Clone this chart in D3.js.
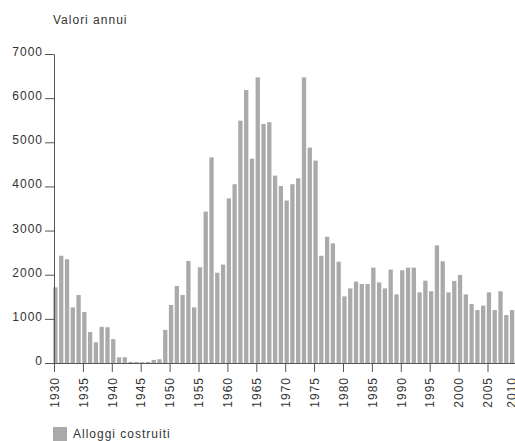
<!DOCTYPE html>
<html>
<head>
<meta charset="utf-8">
<script src="https://cdnjs.cloudflare.com/ajax/libs/d3/7.8.5/d3.min.js"></script>
<style>
  body { margin: 0; background: #fff; }
  svg { display: block; }
  text { font-family: "Liberation Sans", Arial, sans-serif; fill: #333; letter-spacing: 1px; }
</style>
</head>
<body>
<div id="chart"></div>
<script>
// dati: alloggi costruiti per anno
var years = [1930, 1931, 1932, 1933, 1934, 1935, 1936, 1937, 1938, 1939,
	1940, 1941, 1942, 1943, 1944, 1945, 1946, 1947, 1948, 1949,
	1950, 1951, 1952, 1953, 1954, 1955, 1956, 1957, 1958, 1959,
	1960, 1961, 1962, 1963, 1964, 1965, 1966, 1967, 1968, 1969,
	1970, 1971, 1972, 1973, 1974, 1975, 1976, 1977, 1978, 1979,
	1980, 1981, 1982, 1983, 1984, 1985, 1986, 1987, 1988, 1989,
	1990, 1991, 1992, 1993, 1994, 1995, 1996, 1997, 1998, 1999,
	2000, 2001, 2002, 2003, 2004, 2005, 2006, 2007, 2008, 2009, 2010];

var alloggi = [1715, 2430, 2350, 1260, 1540, 1155, 700, 470, 820, 810,
	540, 130, 130, 25, 25, 20, 25, 70, 85, 750,
	1315, 1745, 1540, 2310, 1260, 2170, 3430, 4660, 2045, 2230,
	3730, 4050, 5490, 6185, 4630, 6470, 5415, 5455, 4245, 4010,
	3680, 4050, 4185, 6470, 4880, 4585, 2430, 2860, 2710, 2295,
	1510, 1690, 1845, 1790, 1790, 2160, 1825, 1690, 2115, 1555,
	2100, 2160, 2160, 1600, 1865, 1625, 2665, 2305, 1600, 1860,
	1995, 1555, 1335, 1200, 1300, 1600, 1200, 1625, 1085, 1200, 1200];

var yTicks = [0, 1000, 2000, 3000, 4000, 5000, 6000, 7000];
var xTicks = [1930, 1935, 1940, 1945, 1950, 1955, 1960, 1965, 1970,
	1975, 1980, 1985, 1990, 1995, 2000, 2005, 2010];

var titolo = "Valori annui",
	legenda = "Alloggi costruiti";

var width = 515,
	height = 441,
	marginLeft = 54,
	baseY = 363,
	topY = 54,
	step = 5.78,
	barW = 4.3,
	barColor = "#aaaaaa",
	axisColor = "#555";

var svg = d3.select("#chart").append("svg")
	.attr("width", width)
	.attr("height", height);

var x = d3.scaleLinear()
	.domain([years[0], years[years.length - 1]])
	.range([marginLeft, marginLeft + (years.length - 1) * step]);

var y = d3.scaleLinear()
	.domain([0, 7000])
	.range([baseY, topY]);

var data = years.map(function (d, i) { return { anno: d, valore: alloggi[i] } });

// barre
svg.selectAll(".bar")
	.data(data)
	.enter()
	.append("rect")
	.attr("class", "bar")
	.attr("x", function (d) { return x(d.anno) - 0.7 })
	.attr("width", barW)
	.attr("y", function (d) { return y(d.valore) })
	.attr("height", function (d) { return baseY - y(d.valore) })
	.style("fill", barColor);

// asse y
var yAxis = svg.append("g")
	.attr("transform", "translate(" + marginLeft + ",0)")
	.call(d3.axisLeft(y).tickValues(yTicks).tickSize(9).tickSizeOuter(0).tickPadding(2)
		.tickFormat(function (d) { return d }));

yAxis.selectAll("text")
	.attr("dy", "1.5px")
	.style("font-size", "12px");

// asse x
var xAxis = svg.append("g")
	.attr("transform", "translate(0," + baseY + ")")
	.call(d3.axisBottom(x).tickValues(xTicks).tickSize(9).tickSizeOuter(0)
		.tickFormat(function (d) { return d }));

// etichette ruotate; l'ultima spostata a sinistra per restare nel riquadro
xAxis.selectAll("text")
	.attr("transform", "rotate(-90)")
	.attr("text-anchor", "end")
	.attr("x", -14)
	.attr("y", function (d) { return d === 2010 ? -5 : 0 })
	.attr("dy", "0.35em")
	.style("font-size", "12px");

svg.selectAll(".domain, .tick line")
	.style("stroke", axisColor);
svg.selectAll(".tick text").style("fill", "#333");

// titolo
svg.append("text")
	.attr("x", 53)
	.attr("y", 24)
	.style("font-size", "12px")
	.text(titolo);

// legenda
svg.append("rect")
	.attr("x", 53)
	.attr("y", 427)
	.attr("width", 14)
	.attr("height", 14)
	.style("fill", barColor);

svg.append("text")
	.attr("x", 73)
	.attr("y", 438)
	.style("font-size", "12px")
	.text(legenda);
</script>
</body>
</html>
